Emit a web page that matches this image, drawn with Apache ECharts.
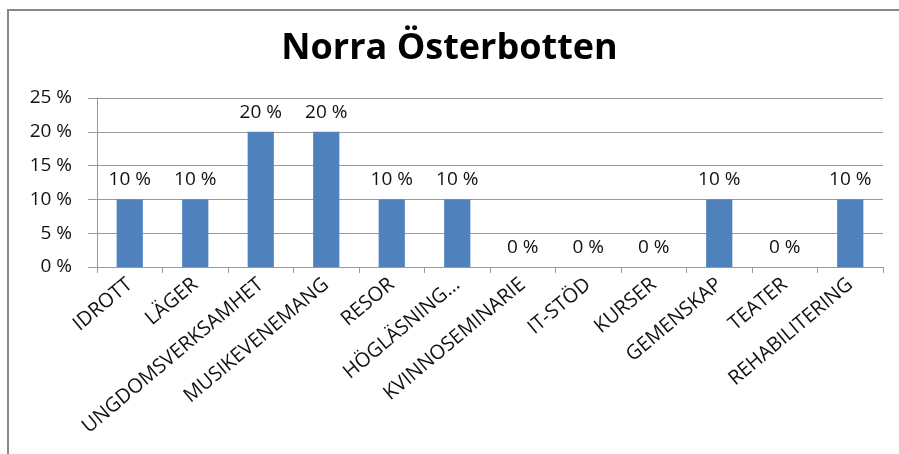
<!DOCTYPE html>
<html>
<head>
<meta charset="utf-8">
<style>
  html, body { margin: 0; padding: 0; background: #fff; }
  #chart { width: 899px; height: 454px; }
</style>
<script src="https://cdn.jsdelivr.net/npm/echarts@6/dist/echarts.min.js"></script>
</head>
<body>
<div id="chart"></div>
<script>
// kategorier och andelar (procent)
const categories = [
  'IDROTT', 'LÄGER', 'UNGDOMSVERKSAMHET', 'MUSIKEVENEMANG', 'RESOR',
  'HÖGLÄSNING…', 'KVINNOSEMINARIE', 'IT-STÖD', 'KURSER', 'GEMENSKAP',
  'TEATER', 'REHABILITERING'
];
const values = [10, 10, 20, 20, 10, 10, 0, 0, 0, 10, 0, 10];
const title = 'Norra Österbotten';

const chart = echarts.init(document.getElementById('chart'));
const font = 'Open Sans';

chart.setOption({
  animation: false,
  title: {
    text: title,
    left: 'center',
    top: 26,
    textStyle: {
      fontFamily: font,
      fontWeight: 'bold',
      fontSize: 36,
      color: '#000'
    }
  },
  graphic: [
    {
      type: 'polyline',
      shape: { points: [[8, 460], [8, 10], [905, 10]] },
      style: { stroke: '#888', lineWidth: 2, fill: null }
    }
  ],
  grid: {
    left: 97,
    right: 16,
    top: 98,
    bottom: 187
  },
  xAxis: {
    type: 'category',
    data: categories,
    axisLine: { lineStyle: { color: '#999' } },
    axisTick: { show: true, length: 6, lineStyle: { color: '#999' } },
    axisLabel: {
      rotate: 40,
      interval: 0,
      margin: 15,
      fontFamily: font,
      fontSize: 20,
      color: '#111'
    }
  },
  yAxis: {
    type: 'value',
    min: 0,
    max: 25,
    interval: 5,
    axisLine: { show: true, lineStyle: { color: '#999' } },
    axisTick: { show: true, length: 9, lineStyle: { color: '#999' } },
    splitLine: { lineStyle: { color: '#999' } },
    axisLabel: {
      margin: 25,
      fontFamily: font,
      fontSize: 19,
      color: '#111',
      formatter: v => v + ' %'
    }
  },
  series: [
    {
      type: 'bar',
      data: values,
      barWidth: '40%',
      itemStyle: { color: '#4F81BD' },
      label: {
        show: true,
        position: 'top',
        distance: 10,
        fontFamily: font,
        fontSize: 19,
        color: '#111',
        formatter: p => p.value + ' %'
      }
    }
  ]
});
</script>
</body>
</html>
